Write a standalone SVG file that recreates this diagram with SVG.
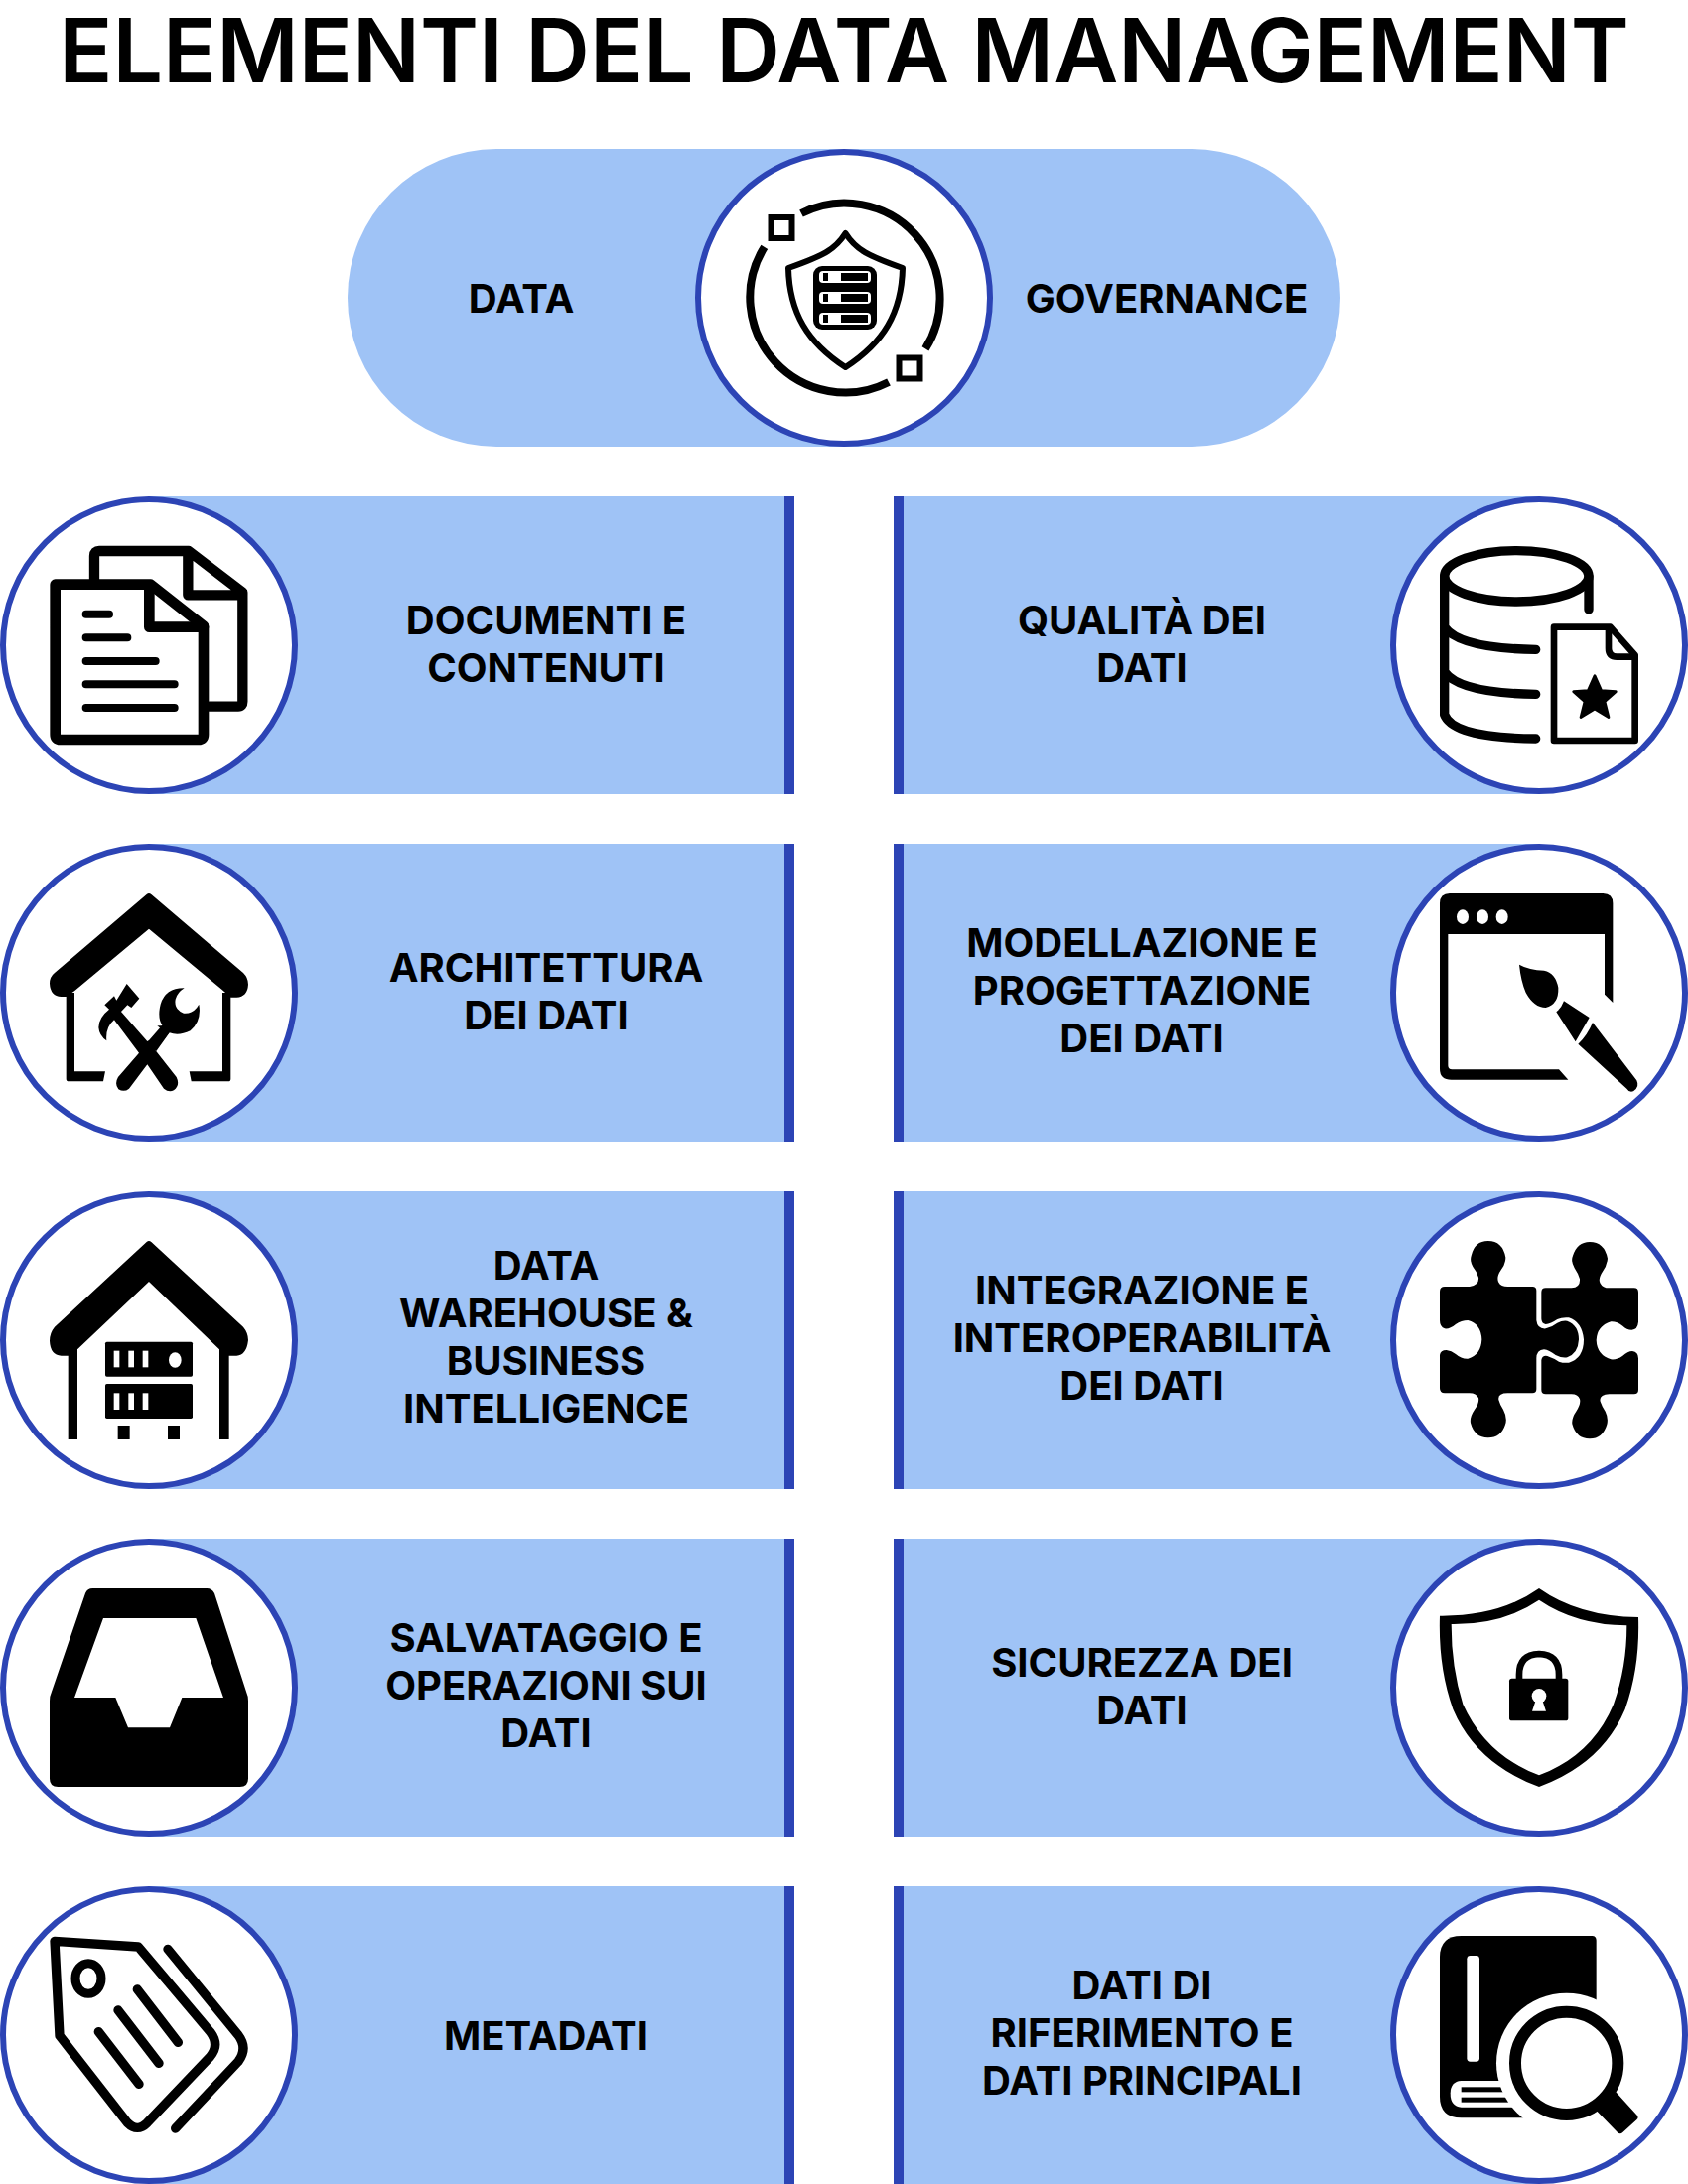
<svg xmlns="http://www.w3.org/2000/svg" width="1700" height="2200" viewBox="0 0 1700 2200">
<style>
.band{fill:#9fc3f6}.bar{fill:#2c44b5}.ring{fill:#fff;stroke:#2c44b5;stroke-width:6}
text{font-family:Inter,"Liberation Sans",sans-serif;font-weight:700;fill:#000;text-anchor:middle}
.t{font-size:40px}.title{font-size:89.500px;font-weight:600}
.s{fill:none;stroke:#000;stroke-linecap:round;stroke-linejoin:round}
.k{fill:#000}.w{fill:#fff}
</style>
<rect width="1700" height="2200" fill="#fff"/>
<text class="title" x="850" y="83">ELEMENTI DEL DATA MANAGEMENT</text>
<g id="connectors"/>
<g id="data-governance">
<rect class="band" x="350" y="150" width="1000" height="300" rx="150"/>
<circle class="ring" cx="850" cy="300" r="147"/>
<g class="s" stroke-width="8">
<path d="M807,215A96,96 0 0 1 932,351.400" stroke-linecap="butt"/>
<path d="M895,385A96,96 0 0 1 769.800,248.800" stroke-linecap="butt"/>
<rect x="776.500" y="219" width="21" height="21" stroke-width="6" stroke-linejoin="miter"/>
<rect x="905.500" y="360.500" width="21" height="21" stroke-width="6" stroke-linejoin="miter"/>
<path d="M851.500,235C862,252 875,258 909,270C908,315 890,345 851.500,370C813,345 795,315 794,270C828,258 841,252 851.500,235Z" stroke-width="6"/>
</g>
<g>
<rect class="k" x="819" y="268" width="64" height="64" rx="9"/>
<rect class="w" x="825" y="273" width="52" height="12" rx="4"/><rect class="w" x="825" y="294" width="52" height="12" rx="4"/><rect class="w" x="825" y="315" width="52" height="12" rx="4"/>
<rect class="k" x="829" y="275" width="5" height="8"/><rect class="k" x="847" y="275" width="27" height="8"/>
<rect class="k" x="829" y="296" width="5" height="8"/><rect class="k" x="847" y="296" width="27" height="8"/>
<rect class="k" x="829" y="317" width="5" height="8"/><rect class="k" x="847" y="317" width="27" height="8"/>
</g>
<text class="t" x="525" y="314.500">DATA</text>
<text class="t" x="1175" y="314.500">GOVERNANCE</text>
</g>

<g id="documenti">
<rect class="band" x="150" y="500" width="650" height="300"/><rect class="bar" x="790" y="500" width="10" height="300"/>
<circle class="ring" cx="150" cy="650" r="147"/>
<g transform="translate(0 490) scale(.33333)">
<path class="s" stroke-width="31" d="M285,285V210Q285,195 300,195H570L733,320V650Q733,665 720,665H632M568,200V328H733"/>
<path class="s" style="fill:#fff" stroke-width="32" d="M167,296H455L615,422V750Q615,765 600,765H182Q167,765 167,750Z"/>
<path class="s" stroke-width="32" d="M451,300V425H615"/>
<path class="s" stroke-width="24" d="M260,386H330M260,457H385M260,528H470M260,598H527M260,669H527"/>
</g>
<text class="t"><tspan x="550" y="638.500">DOCUMENTI E</tspan><tspan x="550" y="686.500">CONTENUTI</tspan></text>
</g>

<g id="qualita">
<rect class="band" x="900" y="500" width="650" height="300"/><rect class="bar" x="900" y="500" width="10" height="300"/>
<circle class="ring" cx="1550" cy="650" r="147"/>
<g transform="translate(1390 490) scale(.33333)">
<ellipse class="s" stroke-width="28" cx="412" cy="271" rx="218" ry="77"/>
<path class="s" stroke-linecap="butt" stroke-width="28" d="M194,272V690Q220,760 470,762M630,272V372M194,425Q240,490 470,493M194,560Q240,625 470,628"/>
<path class="s" stroke-width="20" d="M525,425H695L770,510V768H525Z"/>
<path class="s" stroke-width="20" d="M690,430V490Q690,515 715,515H770"/>
<polygon class="k" stroke="#000" stroke-width="8" stroke-linejoin="round" points="648,572 668,617 712,620 678,650 690,698 648,672 606,698 618,650 584,620 628,617"/>
</g>
<text class="t"><tspan x="1150" y="638.500">QUALITÀ DEI</tspan><tspan x="1150" y="686.500">DATI</tspan></text>
</g>

<g id="architettura">
<rect class="band" x="150" y="850" width="650" height="300"/><rect class="bar" x="790" y="850" width="10" height="300"/>
<circle class="ring" cx="150" cy="1000" r="147"/>
<g transform="translate(0 840) scale(.33333)">
<path class="k" d="M443,183Q450,177 457,183L735,420Q750,435 750,455Q748,492 715,494H697L672,472L450,287L225,475L200,492H185Q152,490 150,452Q150,432 165,420Z"/>
<path class="k" d="M200,480H225V718H318L312,748H208Q200,748 200,740ZM697,480H672V718H572L578,748H690Q697,748 697,740Z"/>
<path class="k" d="M316,517L345,490L352,503L383,453L421,497L397,525L385,517L366,537L445,627L500,600L475,580L490,580L512,600L470,655L533,735Q545,760 525,775Q510,782 495,770L445,697L390,770Q375,782 358,772Q345,755 357,735L420,662L345,562Q318,585 322,625Q300,610 298,585Q298,555 330,530Z"/>
<path class="k" d="M557,466Q500,465 485,515Q475,555 490,578L447,628L472,657L512,601Q540,612 575,595Q610,565 601,515Q585,545 555,542Q525,530 530,500Q535,480 557,466Z"/>
</g>
<text class="t"><tspan x="550" y="988.500">ARCHITETTURA</tspan><tspan x="550" y="1036.500">DEI DATI</tspan></text>
</g>

<g id="modellazione">
<rect class="band" x="900" y="850" width="650" height="300"/><rect class="bar" x="900" y="850" width="10" height="300"/>
<circle class="ring" cx="1550" cy="1000" r="147"/>
<g transform="translate(1390 840) scale(.33333)">
<path class="k" d="M180,210Q180,180 210,180H673Q703,180 703,210V510L678,485V303H205V700Q205,712 217,712H540L568,743H215Q180,743 180,710Z"/>
<ellipse class="w" cx="249" cy="251" rx="18" ry="22"/><ellipse class="w" cx="309" cy="251" rx="18" ry="22"/><ellipse class="w" cx="368" cy="251" rx="18" ry="22"/>
<path class="k" d="M420,395Q450,412 495,413Q530,420 538,465Q540,515 500,525Q465,525 440,480Q425,445 420,395Z"/>
<path class="k" d="M555,505L632,555L590,628L532,538Q548,525 555,505Z"/>
<path class="k" d="M642,570L775,745Q785,765 765,778Q752,782 745,770L598,635Q625,610 642,570Z"/>
</g>
<text class="t"><tspan x="1150" y="963.500">MODELLAZIONE E</tspan><tspan x="1150" y="1011.500">PROGETTAZIONE</tspan><tspan x="1150" y="1059.500">DEI DATI</tspan></text>
</g>

<g id="warehouse">
<rect class="band" x="150" y="1200" width="650" height="300"/><rect class="bar" x="790" y="1200" width="10" height="300"/>
<circle class="ring" cx="150" cy="1350" r="147"/>
<g transform="translate(0 1190) scale(.33333)">
<path class="k" d="M443,183Q450,177 457,183L735,440Q750,458 750,480Q745,525 715,527H692V780H663V508L450,303L234,508V780H206V527H185Q152,525 150,482Q150,458 165,440Z"/>
<rect class="k" x="318" y="485" width="264" height="105" rx="5"/><rect class="k" x="318" y="612" width="264" height="105" rx="5"/>
<rect class="k" x="356" y="738" width="36" height="42"/><rect class="k" x="507" y="738" width="36" height="42"/>
<g class="w"><rect x="344" y="512" width="17" height="50"/><rect x="388" y="512" width="17" height="50"/><rect x="431" y="512" width="17" height="50"/><rect x="344" y="640" width="17" height="50"/><rect x="388" y="640" width="17" height="50"/><rect x="431" y="640" width="17" height="50"/><ellipse cx="529" cy="540" rx="19" ry="23"/></g>
</g>
<text class="t"><tspan x="550" y="1288.500">DATA</tspan><tspan x="550" y="1336.500">WAREHOUSE &amp;</tspan><tspan x="550" y="1384.500">BUSINESS</tspan><tspan x="550" y="1432.500">INTELLIGENCE</tspan></text>
</g>

<g id="integrazione">
<rect class="band" x="900" y="1200" width="650" height="300"/><rect class="bar" x="900" y="1200" width="10" height="300"/>
<circle class="ring" cx="1550" cy="1350" r="147"/>
<g transform="translate(1390 1190) scale(.33333)">
<path class="k" d="M195,318H270Q300,315 297,290Q290,270 280,258Q270,240 275,225Q285,180 326,180Q370,180 379,230Q379,250 365,268Q350,290 358,305Q365,318 385,318H460Q472,318 472,330V420Q475,447 500,445Q520,440 535,428Q550,420 565,422Q600,435 600,478Q598,520 565,532Q550,535 530,525Q510,510 495,508Q472,510 472,535V628Q472,640 460,640H385Q355,640 358,660Q362,675 372,690Q385,715 378,735Q365,775 326,775Q285,775 273,730Q270,712 285,690Q300,670 297,655Q290,640 270,640H195Q180,640 180,625V525Q182,510 200,510Q215,512 228,522Q245,537 265,536Q305,525 307,478Q305,430 265,420Q245,420 228,432Q210,447 195,445Q180,440 180,420V333Q180,318 195,318Z"/>
<path class="k" d="M500,322H578Q605,320 603,295Q598,278 587,262Q575,240 582,225Q595,183 633,183Q677,183 687,233Q685,255 672,272Q657,295 665,308Q672,322 692,322H767Q780,322 780,335V425Q778,448 760,449Q745,449 733,437Q715,423 697,424Q655,437 653,480Q655,525 697,538Q715,540 733,527Q748,513 762,513Q780,515 780,535V630Q780,643 767,643H692Q660,645 665,665Q670,680 680,695Q690,715 685,735Q672,778 633,778Q592,778 580,733Q578,715 592,695Q607,672 603,658Q597,643 578,643H500Q487,643 487,630V540Q490,525 505,528Q525,535 540,545Q555,550 570,548Q615,535 615,478Q610,425 570,412Q550,410 535,417Q515,430 500,432Q487,430 487,415V335Q487,322 500,322Z"/>
</g>
<text class="t"><tspan x="1150" y="1313.500">INTEGRAZIONE E</tspan><tspan x="1150" y="1361.500">INTEROPERABILITÀ</tspan><tspan x="1150" y="1409.500">DEI DATI</tspan></text>
</g>

<g id="salvataggio">
<rect class="band" x="150" y="1550" width="650" height="300"/><rect class="bar" x="790" y="1550" width="10" height="300"/>
<circle class="ring" cx="150" cy="1700" r="147"/>
<g transform="translate(0 1540) scale(.33333)">
<path class="k" fill-rule="evenodd" d="M258,195Q264,180 280,180H625Q640,180 648,195L745,495Q750,505 750,520V755Q750,780 725,780H175Q150,780 150,755V520Q150,505 155,495ZM312,270H592L675,510H550L513,601H387L349,510H225Z"/>
</g>
<text class="t"><tspan x="550" y="1663.500">SALVATAGGIO E</tspan><tspan x="550" y="1711.500">OPERAZIONI SUI</tspan><tspan x="550" y="1759.500">DATI</tspan></text>
</g>

<g id="sicurezza">
<rect class="band" x="900" y="1550" width="650" height="300"/><rect class="bar" x="900" y="1550" width="10" height="300"/>
<circle class="ring" cx="1550" cy="1700" r="147"/>
<g transform="translate(1390 1540) scale(.33333)">
<path class="k" fill-rule="evenodd" d="M480,180Q600,265 780,267Q785,420 740,545Q670,710 480,780Q290,710 220,545Q175,420 180,263Q360,265 480,180ZM480,215Q370,290 215,288Q215,420 250,530Q320,685 480,745Q640,685 705,530Q745,420 745,292Q590,290 480,215Z"/>
<rect class="k" x="390" y="452" width="178" height="128" rx="8"/>
<path class="s" stroke-width="20" stroke-linecap="butt" d="M420,455V440Q420,380 480,378Q540,380 540,440V455"/>
<circle class="w" cx="480" cy="505" r="22"/><polygon class="w" points="470,518 490,518 501,551 459,551"/>
</g>
<text class="t"><tspan x="1150" y="1688.500">SICUREZZA DEI</tspan><tspan x="1150" y="1736.500">DATI</tspan></text>
</g>

<g id="metadati">
<rect class="band" x="150" y="1900" width="650" height="300"/><rect class="bar" x="790" y="1900" width="10" height="300"/>
<circle class="ring" cx="150" cy="2050" r="147"/>
<g transform="translate(0 1890) scale(.33333)">
<path class="s" stroke-width="28" d="M165,196L418,213L635,470Q665,510 635,545L445,745Q415,775 385,745L180,482Z"/>
<ellipse class="s" stroke-width="27" cx="267" cy="309" rx="39" ry="46"/>
<path class="s" stroke-width="28" d="M415,342L538,502M357,405L480,565M298,470L420,628M507,220L720,480Q750,520 720,560L530,762"/>
</g>
<text class="t" x="550" y="2064.500">METADATI</text>
</g>

<g id="riferimento">
<rect class="band" x="900" y="1900" width="650" height="300"/><rect class="bar" x="900" y="1900" width="10" height="300"/>
<circle class="ring" cx="1550" cy="2050" r="147"/>
<g transform="translate(1390 1890) scale(.33333)">
<path class="k" d="M245,180H640Q653,180 653,195V730H245Q180,730 180,665V245Q180,180 245,180Z"/>
<rect class="w" x="262" y="240" width="38" height="320" rx="10"/>
<path class="w" d="M245,618H420V698H245Q212,695 212,657Q212,620 245,618Z"/>
<rect class="k" x="245" y="637" width="140" height="15"/><rect class="k" x="245" y="668" width="150" height="15"/>
<circle class="w" cx="563" cy="565" r="212"/>
<circle class="s" stroke-width="36" cx="563" cy="565" r="155"/>
<path class="k" d="M712,652L776,722Q782,730 775,736L733,774Q725,782 717,774L653,708Z"/>
</g>
<text class="t"><tspan x="1150" y="2013.500">DATI DI</tspan><tspan x="1150" y="2061.500">RIFERIMENTO E</tspan><tspan x="1150" y="2109.500">DATI PRINCIPALI</tspan></text>
</g>
</svg>
